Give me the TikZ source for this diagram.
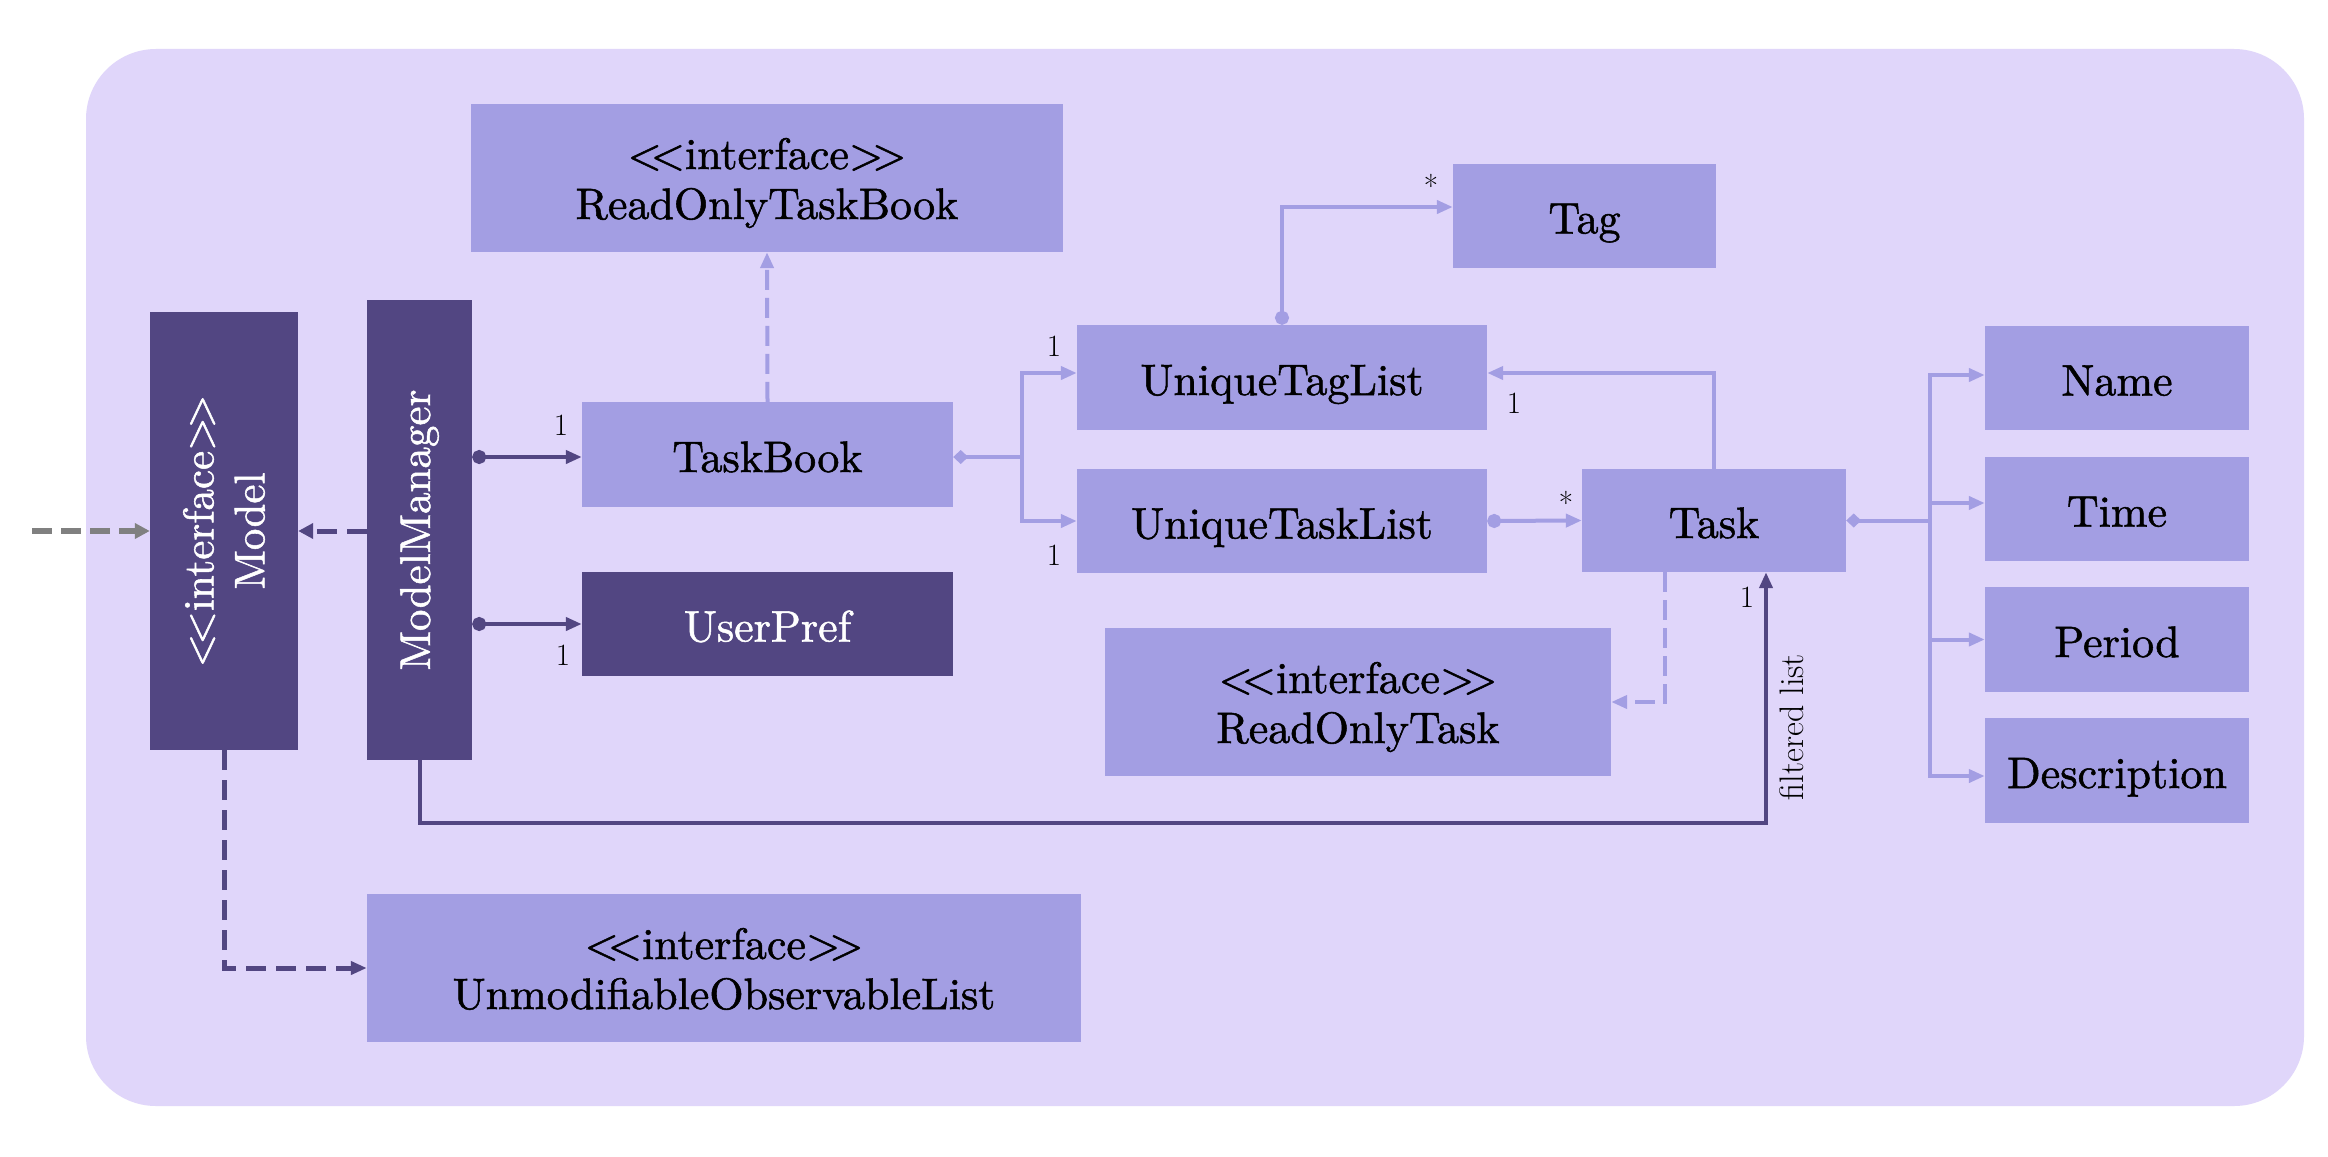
\documentclass[tikz,border=0pt]{standalone}
\usepackage{fontspec}
\newfontfamily\boxfont{lmroman10-regular.otf}[FakeBold=1.2]
\usetikzlibrary{arrows.meta}
\definecolor{bgc}{HTML}{E0D6FA}
\definecolor{lightc}{HTML}{A39EE3}
\definecolor{darkc}{HTML}{524682}
\definecolor{grayc}{HTML}{808080}
\newcommand\ltlt{<\kern-0.25em<}
\newcommand\gtgt{>\kern-0.25em>}
\begin{document}
\begin{tikzpicture}[x=1pt,y=-1pt,
  lbox/.style={fill=lightc, draw=none, inner sep=0pt, align=center, text=black, font=\boxfont\fontsize{44}{50}\selectfont},
  dbox/.style={fill=darkc, draw=none, inner sep=0pt, align=center, text=white, font=\boxfont\fontsize{44}{50}\selectfont},
  one/.style={text height=35pt, text depth=0pt},
  two/.style={text height=82pt, text depth=0pt},
  dtext/.style={inner sep=0pt, align=center, text=white, font=\boxfont\fontsize{43}{51}\selectfont},
  lab/.style={inner sep=0pt, text=black, font=\fontsize{31}{36}\selectfont},
  lline/.style={draw=lightc, line width=4pt},
  dline/.style={draw=darkc, line width=4pt},
  ldash/.style={draw=lightc, line width=4pt, dash pattern=on 20pt off 8pt},
  ddash/.style={draw=darkc, line width=5pt, dash pattern=on 20pt off 10pt},
  gdash/.style={draw=grayc, line width=6pt, dash pattern=on 20pt off 9pt},
  tri/.style={-{Triangle[length=16pt,width=13pt]}},
  cirtri/.style={{Circle[length=14pt]}-{Triangle[length=16pt,width=13pt]}},
  dia/.style={{Diamond[length=15pt,width=14pt]}-},
]
\useasboundingbox (0,0) rectangle (2328,1156);
\fill[white] (0,0) rectangle (2328,1156);
\fill[bgc, rounded corners=70pt] (86,49) rectangle (2304,1106);

% boxes
\node[lbox, two, minimum width=592pt, minimum height=148pt] (rotb) at (767,178) {\ltlt interface\gtgt\\ReadOnlyTaskBook};
\node[dbox, minimum width=148pt, minimum height=438pt] (model) at (224,531) {};
\node[dtext, rotate=90] (modeltext) at (model.center) {\ltlt interface\gtgt\\Model};
\node[dbox, minimum width=105pt, minimum height=460pt] (mm) at (419.5,530) {};
\node[dtext, rotate=90] (mmtext) at (mm.center) {ModelManager};
\node[lbox, one, minimum width=371pt, minimum height=105pt] (tb) at (767.5,454.5) {TaskBook};
\node[dbox, one, minimum width=371pt, minimum height=104pt] (up) at (767.5,624) {UserPref};
\node[lbox, one, minimum width=263pt, minimum height=104pt] (tag) at (1584.5,216) {Tag};
\node[lbox, one, minimum width=410pt, minimum height=105pt] (utl) at (1282,377.5) {UniqueTagList};
\node[lbox, one, minimum width=410pt, minimum height=104pt] (utk) at (1282,521) {UniqueTaskList};
\node[lbox, one, minimum width=264pt, minimum height=103pt] (task) at (1714,520.5) {Task};
\node[lbox, two, minimum width=506pt, minimum height=148pt] (rot) at (1358,702) {\ltlt interface\gtgt\\ReadOnlyTask};
\node[lbox, one, minimum width=264pt, minimum height=104pt] (name) at (2117,378) {Name};
\node[lbox, one, minimum width=264pt, minimum height=104pt] (time) at (2117,509) {Time};
\node[lbox, one, minimum width=264pt, minimum height=105pt] (period) at (2117,639.5) {Period};
\node[lbox, one, minimum width=264pt, minimum height=105pt] (desc) at (2117,770.5) {Description};
\node[lbox, two, minimum width=714pt, minimum height=148pt] (uol) at (724,968) {\ltlt interface\gtgt\\UnmodifiableObservableList};

% coordinates
\coordinate (gstart) at (32,531);
\coordinate (fl) at (1766,823);
\coordinate (b1) at (1022,457);
\coordinate (b2) at (1930,520.5);

% connectors
\draw[gdash, -{Triangle[length=15pt,width=15pt]}] (gstart) -- (gstart -| model.west);
\draw[ddash, -{Triangle[length=15pt,width=15pt]}] (mm.west |- gstart) -- (model.east |- gstart);
\draw[dline, cirtri] (mm.east |- b1) -- (tb.west |- b1);
\draw[dline, cirtri] (mm.east |- up.west) -- (up.west);
\draw[ldash, tri] (tb.north) -- (rotb.south);
\draw[ddash, tri] (model.south) |- (uol.west);
\draw[dline, tri] (mm.south) |- (fl) -- (fl |- task.south);

\draw[lline, dia] (tb.east |- b1) -- (b1);
\draw[lline, tri] (b1) |- ([yshift=4.5pt]utl.west);
\draw[lline, tri] (b1) |- (utk.west);
\draw[lline, cirtri] (utl.north) |- ([yshift=9pt]tag.west);
\draw[lline, tri] (task.north) |- ([yshift=4.5pt]utl.east);
\draw[lline, cirtri] (utk.east) -- (task.west);
\draw[ldash, tri] ([xshift=-49pt]task.south) |- (rot.east);

\draw[lline, dia] (task.east) -- (b2);
\draw[lline, tri] (b2) |- ([yshift=3pt]name.west);
\draw[lline, tri] (b2) |- ([yshift=6pt]time.west);
\draw[lline, tri] (b2) |- (period.west);
\draw[lline, tri] (b2) |- ([yshift=-5.5pt]desc.west);

% labels
\node[lab] (l1) at (561,425) {1};
\node[lab] (l2) at (563,655) {1};
\node[lab] (l3) at (1054,346) {1};
\node[lab] (l4) at (1054,555) {1};
\node[lab] (l5) at (1431,186) {*};
\node[lab] (l6) at (1514,403) {1};
\node[lab] (l7) at (1566,503) {*};
\node[lab] (l8) at (1747,597) {1};
\node[lab, rotate=90, font=\fontsize{34}{40}\selectfont] (fltext) at (1792,727) {filtered list};
\end{tikzpicture}
\end{document}
